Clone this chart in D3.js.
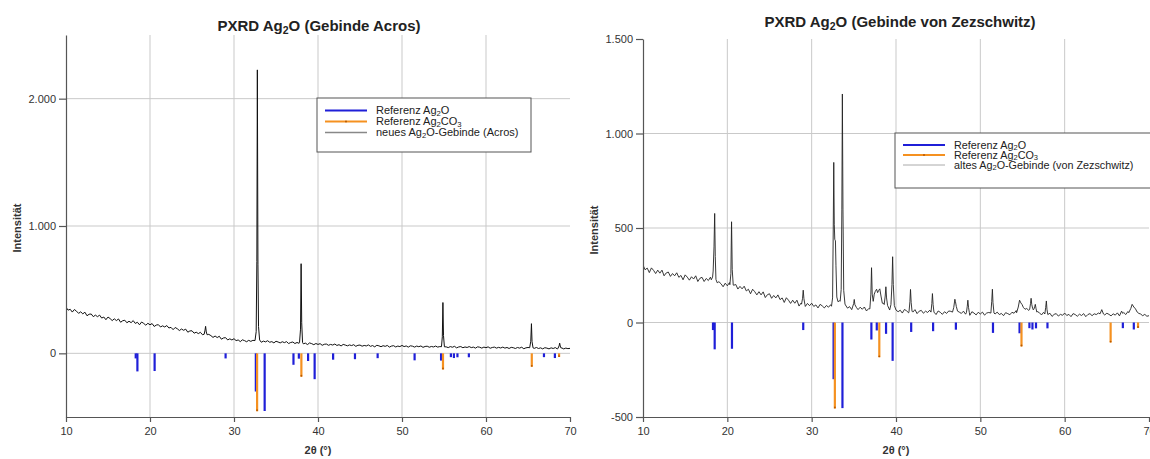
<!DOCTYPE html>
<html>
<head>
<meta charset="utf-8">
<script src="https://cdn.jsdelivr.net/npm/d3@7"></script>
<style>
  body { margin: 0; background: #fff; }
  svg { display: block; }
  text { font-family: "Liberation Sans", Arial, Helvetica, sans-serif; }
</style>
</head>
<body>
<svg id="fig" width="1150" height="459"></svg>
<script>
// ---------- Reference stick patterns (counts, drawn downward from 0) ----------
const refAg2OTheta = [18.3, 18.5, 20.55, 29.0, 32.6, 33.65, 37.08, 37.72, 38.82, 39.6, 41.8, 44.4, 47.1, 51.5, 54.65, 55.82, 56.18, 56.6, 57.96, 66.9, 68.2];
const refAg2OInt   = [40, 142, 139, 40, 300, 453, 90, 42, 60, 203, 50, 46, 38, 55, 57, 30, 37, 31, 31, 30, 37];
const refAg2CO3Theta = [32.75, 38.02, 54.88, 65.45, 68.7];
const refAg2CO3Int   = [455, 184, 127, 106, 29];

// ---------- Measured scan: new Ag2O container (Acros), 10–70° in 0.25° steps ----------
const acrosStart = 10, acrosStep = 0.25;
const acrosCounts = [
  362, 339, 346, 324, 344, 331, 314, 326,
  310, 323, 295, 307, 309, 288, 300, 288,
  300, 277, 285, 264, 285, 273, 257, 271,
  257, 270, 244, 256, 260, 240, 252, 241,
  257, 235, 244, 224, 246, 235, 221, 236,
  224, 234, 211, 222, 225, 207, 216, 207,
  218, 199, 204, 186, 203, 193, 179, 191,
  181, 190, 166, 176, 177, 158, 166, 155,
  165, 146, 151, 133, 149, 139, 125, 136,
  124, 134, 111, 121, 123, 105, 114, 105,
  115, 100, 105, 92, 106, 100, 91, 102,
  94, 102, 87, 96, 99, 87, 96, 90,
  99, 87, 92, 82, 95, 89, 82, 91,
  84, 92, 77, 85, 89, 77, 85, 79,
  87, 75, 80, 69, 82, 76, 68, 77,
  70, 76, 63, 71, 73, 63, 70, 65,
  73, 62, 68, 58, 70, 65, 59, 66,
  61, 68, 55, 63, 65, 56, 62, 58,
  66, 55, 61, 51, 63, 59, 52, 60,
  55, 62, 49, 57, 60, 50, 57, 53,
  62, 53, 58, 49, 59, 56, 49, 57,
  52, 58, 47, 54, 56, 48, 54, 50,
  57, 49, 53, 45, 55, 51, 45, 53,
  48, 55, 43, 50, 53, 44, 50, 46,
  53, 45, 49, 41, 51, 48, 41, 49,
  44, 51, 40, 46, 49, 41, 47, 42,
  49, 41, 46, 38, 47, 44, 38, 46,
  41, 48, 36, 43, 46, 38, 43, 39,
  46, 38, 43, 35, 44, 41, 35, 43,
  38, 45, 34, 41, 43, 35, 41, 37,
  39
];
// Reflections of the Acros scan: [2θ, counts] profiles
const acrosPeaks = [
  [[26.45, 150], [26.55, 182], [26.62, 212], [26.7, 168], [26.8, 146]],
  [[32.5, 100], [32.64, 170], [32.72, 720], [32.78, 2226], [32.85, 700], [32.92, 210], [33.05, 105]],
  [[37.8, 84], [37.92, 190], [37.99, 704], [38.06, 240], [38.16, 86]],
  [[54.7, 52], [54.8, 130], [54.87, 399], [54.94, 140], [55.05, 51]],
  [[65.2, 44], [65.33, 95], [65.41, 233], [65.48, 92], [65.6, 43]],
  [[68.58, 41], [68.7, 58], [68.77, 80], [68.84, 57], [68.95, 40]]
];

// ---------- Measured scan: old Ag2O container (von Zezschwitz) ----------
const zezStart = 10, zezStep = 0.25;
const zezCounts = [
  304, 279, 288, 264, 289, 276, 259, 277,
  261, 277, 247, 262, 267, 244, 259, 247,
  263, 239, 249, 226, 252, 240, 224, 242,
  230, 247, 217, 234, 239, 217, 233, 222,
  240, 217, 228, 198, 216, 205, 189, 208,
  194, 211, 181, 197, 201, 177, 191, 178,
  192, 167, 176, 152, 176, 163, 146, 163,
  146, 162, 132, 147, 152, 128, 143, 130,
  146, 121, 130, 106, 131, 118, 101, 118,
  102, 118, 87, 103, 108, 85, 101, 89,
  102, 85, 93, 77, 96, 88, 77, 90,
  81, 94, 73, 86, 110, 115, 100, 90,
  93, 76, 84, 68, 87, 79, 68, 81,
  70, 82, 61, 73, 77, 62, 150, 160,
  170, 160, 102, 70, 90, 66, 85, 78,
  74, 57, 65, 50, 69, 62, 51, 65,
  55, 68, 47, 60, 64, 49, 60, 53,
  65, 49, 57, 42, 61, 54, 43, 57,
  48, 61, 59, 60, 70, 65, 55, 48,
  60, 44, 53, 38, 57, 50, 40, 54,
  45, 55, 39, 50, 53, 41, 50, 45,
  55, 42, 48, 36, 52, 47, 41, 54,
  49, 63, 80, 100, 95, 85, 80, 64,
  70, 68, 70, 58, 52, 40, 54, 50,
  39, 49, 32, 43, 47, 34, 43, 38,
  50, 37, 43, 31, 47, 42, 33, 44,
  37, 47, 31, 42, 47, 36, 46, 42,
  50, 55, 50, 40, 49, 43, 35, 46,
  39, 51, 35, 50, 53, 42, 58, 62,
  85, 80, 70, 58, 45, 36, 43, 33,
  36
];
const zezPeaks = [
  [[18.1, 226], [18.25, 240], [18.32, 272], [18.42, 400], [18.5, 577], [18.57, 350], [18.65, 228], [18.8, 210]],
  [[20.3, 200], [20.42, 258], [20.5, 533], [20.58, 280], [20.7, 198]],
  [[28.8, 97], [28.92, 128], [29.0, 171], [29.08, 126], [29.2, 95]],
  [[32.35, 86], [32.48, 130], [32.56, 500], [32.62, 847], [32.68, 520], [32.74, 440], [32.82, 432], [32.88, 300], [32.98, 135], [33.12, 110], [33.3, 115]],
  [[33.38, 112], [33.5, 175], [33.58, 600], [33.64, 1209], [33.71, 600], [33.8, 170], [33.95, 98]],
  [[34.85, 82], [34.98, 100], [35.05, 122], [35.12, 95], [35.3, 80]],
  [[36.9, 72], [37.02, 150], [37.1, 290], [37.18, 150], [37.3, 112], [37.42, 150], [37.55, 165], [37.7, 176], [37.82, 158], [37.95, 170], [38.08, 178], [38.22, 140], [38.38, 102]],
  [[38.6, 95], [38.72, 140], [38.8, 189], [38.88, 130], [39.0, 90]],
  [[39.4, 95], [39.52, 200], [39.6, 348], [39.68, 200], [39.8, 90], [40.0, 66]],
  [[41.55, 60], [41.65, 110], [41.72, 175], [41.8, 105], [41.9, 60]],
  [[44.15, 55], [44.25, 100], [44.32, 153], [44.4, 95], [44.5, 55]],
  [[46.7, 55], [46.85, 80], [46.98, 123], [47.05, 110], [47.15, 85], [47.3, 60]],
  [[48.35, 52], [48.45, 85], [48.52, 118], [48.6, 80], [48.7, 52]],
  [[51.25, 50], [51.35, 110], [51.43, 176], [51.5, 105], [51.62, 50]],
  [[54.3, 52], [54.5, 82], [54.65, 118], [54.8, 104], [54.95, 95], [55.1, 80], [55.3, 70], [55.5, 74]],
  [[55.85, 70], [55.95, 100], [56.02, 128], [56.1, 95], [56.2, 75]],
  [[56.35, 70], [56.45, 85], [56.52, 96], [56.6, 75], [56.7, 55]],
  [[57.65, 45], [57.75, 80], [57.83, 114], [57.9, 70], [58.0, 42]],
  [[64.2, 46], [64.4, 68], [64.6, 45]],
  [[66.6, 45], [66.75, 60], [66.9, 48]],
  [[67.6, 52], [67.85, 75], [68.0, 96], [68.2, 82], [68.4, 72], [68.6, 55], [68.8, 48]]
];

// ---------- Axis ticks ----------
const xTicks = [10, 20, 30, 40, 50, 60, 70];
const xGridLines = [20, 30, 40, 50, 60];
const acrosYTicks = [0, 1000, 2000];
const zezYTicks = [-500, 0, 500, 1000, 1500];

// ---------- Colours ----------
const colAg2O = "#1f1fd8";
const colAg2CO3 = "#f59120";
const colAg2CO3Dot = "#b85a00";

// German number formatting: 1.000, 2.000
const de = d3.formatLocale({ decimal: ",", thousands: ".", grouping: [3], currency: ["", " €"], minus: "-" });
const fmt = de.format(",d");

// Combine a regular-step scan with its reflection profiles
function buildScan(start, step, counts, peaks) {
  const windows = peaks.map(p => [p[0][0], p[p.length - 1][0]]);
  const pts = counts
    .map((c, i) => [start + i * step, c])
    .filter(([t]) => !windows.some(([a, b]) => t >= a && t <= b));
  peaks.forEach(p => p.forEach(q => pts.push(q)));
  return pts.sort((a, b) => a[0] - b[0]);
}

const svg = d3.select("#fig");
svg.append("rect").attr("width", 1150).attr("height", 459).attr("fill", "#fff");

// Chemical formula with subscripts; parts: [string, isSubscript]
function addChem(textSel, parts, subShift) {
  let down = false;
  parts.forEach(([s, sub]) => {
    const t = textSel.append("tspan").text(s);
    if (sub) {
      t.attr("font-size", "0.7em").attr("dy", down ? 0 : subShift);
      down = true;
    } else {
      if (down) t.attr("dy", -subShift);
      down = false;
    }
  });
}

function drawPanel(o) {
  const x = d3.scaleLinear().domain([10, 70]).range([o.left, o.right]);
  const y = d3.scaleLinear().domain(o.yDomain).range([o.bottom, o.top]);
  const g = svg.append("g");

  const clipId = o.id + "-clip";
  svg.append("defs").append("clipPath").attr("id", clipId)
    .append("rect").attr("x", o.left).attr("y", o.top)
    .attr("width", o.right - o.left + 2).attr("height", o.bottom - o.top);

  // grid
  g.append("g").selectAll("line").data(xGridLines).join("line")
    .attr("x1", d => x(d)).attr("x2", d => x(d))
    .attr("y1", o.top).attr("y2", o.bottom)
    .attr("stroke", "#c9c9c9").attr("stroke-width", 1);
  g.append("g").selectAll("line").data(o.hGrid).join("line")
    .attr("x1", o.left).attr("x2", o.right)
    .attr("y1", d => y(d)).attr("y2", d => y(d))
    .attr("stroke", "#c9c9c9").attr("stroke-width", 1);

  // measured pattern
  const scan = buildScan(o.start, o.step, o.counts, o.peaks);
  g.append("path").datum(scan)
    .attr("clip-path", `url(#${clipId})`)
    .attr("fill", "none")
    .attr("stroke", o.lineColor)
    .attr("stroke-width", o.lineWidth)
    .attr("stroke-linejoin", "round")
    .attr("d", d3.line().x(d => x(d[0])).y(d => y(d[1])));

  // reference sticks
  const sticks = g.append("g");
  sticks.selectAll("line.ag2o").data(d3.zip(refAg2OTheta, refAg2OInt)).join("line")
    .attr("class", "ag2o")
    .attr("x1", d => x(d[0])).attr("x2", d => x(d[0]))
    .attr("y1", y(0)).attr("y2", d => y(-d[1]))
    .attr("stroke", colAg2O).attr("stroke-width", 2.2);
  sticks.selectAll("line.ag2co3").data(d3.zip(refAg2CO3Theta, refAg2CO3Int)).join("line")
    .attr("class", "ag2co3")
    .attr("x1", d => x(d[0])).attr("x2", d => x(d[0]))
    .attr("y1", y(0)).attr("y2", d => y(-d[1]))
    .attr("stroke", colAg2CO3).attr("stroke-width", 2.2);
  sticks.selectAll("circle").data(d3.zip(refAg2CO3Theta, refAg2CO3Int)).join("circle")
    .attr("cx", d => x(d[0])).attr("cy", d => y(-d[1]) - 1)
    .attr("r", 0.9).attr("fill", colAg2CO3Dot);

  // axes
  const axisColor = "#555";
  const yAxis = g.append("g").attr("transform", `translate(${o.left},0)`)
    .call(d3.axisLeft(y).tickValues(o.yTicks).tickFormat(fmt).tickSize(7).tickSizeOuter(0).tickPadding(3));
  const xAxis = g.append("g").attr("transform", `translate(0,${o.bottom})`)
    .call(d3.axisBottom(x).tickValues(xTicks).tickFormat(d3.format("d")).tickSize(5).tickSizeOuter(0).tickPadding(5));
  [yAxis, xAxis].forEach(a => {
    a.select(".domain").attr("stroke", axisColor).attr("stroke-width", 1.2);
    a.selectAll(".tick line").attr("stroke", axisColor).attr("stroke-width", 1.2);
    a.selectAll(".tick text").attr("fill", "#333").attr("font-size", 11)
      .attr("font-family", "'Liberation Sans', Arial, sans-serif");
  });

  // axis titles
  g.append("text")
    .attr("transform", `translate(${o.yLabelX},${(o.top + o.bottom) / 2 + 2}) rotate(-90)`)
    .attr("text-anchor", "middle").attr("font-size", 11).attr("font-weight", "bold")
    .attr("fill", "#333").text("Intensität");
  g.append("text")
    .attr("x", (o.left + o.right) / 2).attr("y", 454)
    .attr("text-anchor", "middle").attr("font-size", 11).attr("font-weight", "bold")
    .attr("fill", "#333").text("2θ (°)");

  // title
  const title = g.append("text")
    .attr("x", o.titleX).attr("y", o.titleY)
    .attr("text-anchor", "middle").attr("font-size", 15).attr("font-weight", "bold")
    .attr("fill", "#222");
  addChem(title, [["PXRD Ag", false], ["2", true], ["O (" + o.titleSuffix + ")", false]], 3);

  // legend
  const L = o.legend;
  const lg = g.append("g");
  lg.append("rect").attr("x", L.x).attr("y", L.y).attr("width", L.w).attr("height", L.h)
    .attr("fill", "#fff").attr("stroke", "#555").attr("stroke-width", 1);
  const rows = [
    { color: colAg2O, width: 2, dot: false, parts: [["Referenz Ag", false], ["2", true], ["O", false]] },
    { color: colAg2CO3, width: 2, dot: true, parts: [["Referenz Ag", false], ["2", true], ["CO", false], ["3", true]] },
    { color: L.lineColor, width: L.lineWidth, dot: false, parts: L.lastParts }
  ];
  rows.forEach((r, i) => {
    const yy = L.y + L.row0 + i * L.rowGap;
    lg.append("line").attr("x1", L.x + 8).attr("x2", L.x + 50)
      .attr("y1", yy).attr("y2", yy).attr("stroke", r.color).attr("stroke-width", r.width);
    if (r.dot) lg.append("circle").attr("cx", L.x + 29).attr("cy", yy).attr("r", 1).attr("fill", colAg2CO3Dot);
    const t = lg.append("text").attr("x", L.x + 59).attr("y", yy + 3.5)
      .attr("font-size", L.fontSize).attr("fill", "#222");
    addChem(t, r.parts, 1.8);
  });
}

drawPanel({
  id: "acros", left: 66, right: 570, top: 35, bottom: 417,
  yDomain: [-500, 2500], yTicks: acrosYTicks, hGrid: [0, 1000, 2000],
  start: acrosStart, step: acrosStep, counts: acrosCounts, peaks: acrosPeaks,
  lineColor: "#111", lineWidth: 1,
  yLabelX: 21, titleX: 319, titleY: 31, titleSuffix: "Gebinde Acros",
  legend: { x: 317, y: 98, w: 214, h: 54, row0: 12.5, rowGap: 11, fontSize: 11, lineColor: "#888", lineWidth: 1.5,
            lastParts: [["neues Ag", false], ["2", true], ["O-Gebinde (Acros)", false]] }
});

drawPanel({
  id: "zez", left: 643, right: 1149, top: 39, bottom: 417,
  yDomain: [-500, 1500], yTicks: zezYTicks, hGrid: [0, 500, 1000],
  start: zezStart, step: zezStep, counts: zezCounts, peaks: zezPeaks,
  lineColor: "#222", lineWidth: 0.9,
  yLabelX: 598, titleX: 900, titleY: 27, titleSuffix: "Gebinde von Zezschwitz",
  legend: { x: 895, y: 133, w: 260, h: 55, row0: 12, rowGap: 10, fontSize: 10.8, lineColor: "#aaa", lineWidth: 1,
            lastParts: [["altes Ag", false], ["2", true], ["O-Gebinde (von Zezschwitz)", false]] }
});
</script>
</body>
</html>
